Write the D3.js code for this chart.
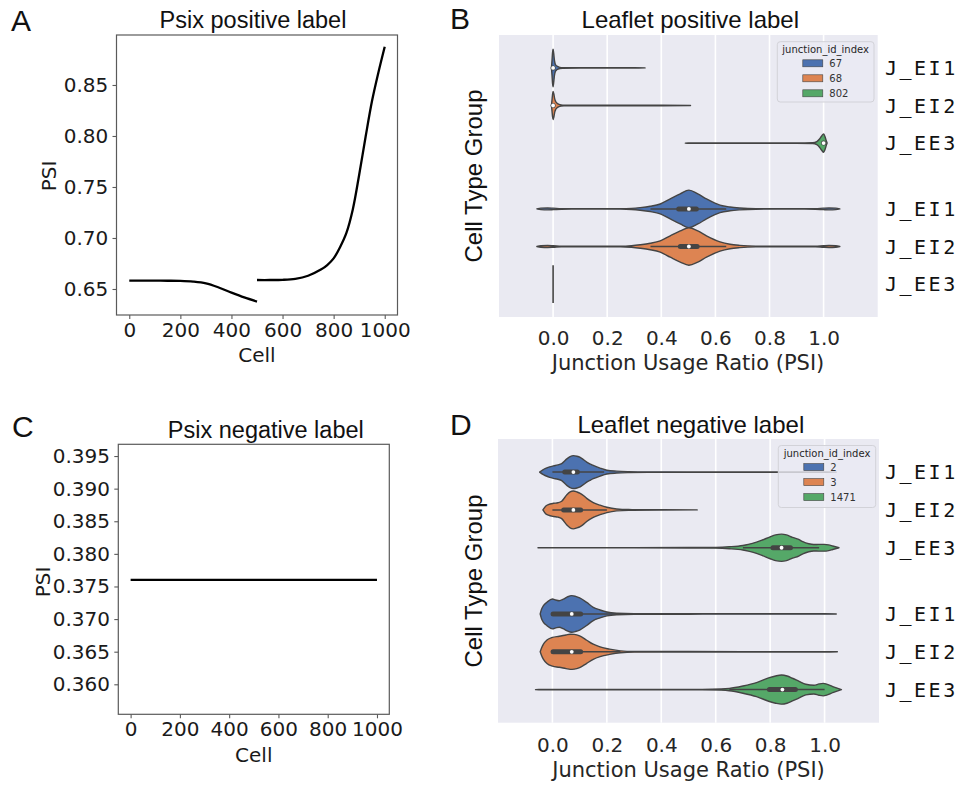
<!DOCTYPE html>
<html><head><meta charset="utf-8">
<script src="https://cdn.jsdelivr.net/npm/d3@7"></script>
<style>body{margin:0;background:#fff;} svg{display:block;}</style>
</head><body>
<svg id="c" width="964" height="787"></svg>
<script>
// ---------------- DATA ----------------
const cellTicks = [0, 200, 400, 600, 800, 1000];
const psiTicksA = [0.65, 0.70, 0.75, 0.80, 0.85];
const psiTicksC = [0.360, 0.365, 0.370, 0.375, 0.380, 0.385, 0.390, 0.395];
const psiTicks = [0.0, 0.2, 0.4, 0.6, 0.8, 1.0];

// Panel A: Psix positive label (two smoothed segments)
const cellsA1 = [0, 50, 100, 150, 200, 250, 300, 350, 400, 450, 500];
const psiA1 = [0.6582, 0.6582, 0.6582, 0.6581, 0.6579, 0.6572, 0.6555, 0.6515, 0.6465, 0.6418, 0.6377];
const cellsA2 = [500, 550, 600, 650, 700, 750, 775, 800, 825, 850, 875, 900, 925, 950, 975, 1000];
const psiA2 = [0.6588, 0.6588, 0.6590, 0.6600, 0.6630, 0.6690, 0.6735, 0.6800, 0.6910, 0.7050, 0.7280, 0.7620, 0.7990, 0.8340, 0.8620, 0.8875];

// Panel C: Psix negative label (constant)
const cellsC = [0, 250, 500, 750, 1000];
const psiC = [0.376, 0.376, 0.376, 0.376, 0.376];

// Violin panels
const rowLabels = ["J_EI1", "J_EI2", "J_EE3"];
const groups = [0, 1];
const hueB = ["67", "68", "802"];
const hueD = ["2", "3", "1471"];

// density profiles: [psi, relative half-width]
const vB_0_67 = [[-0.006,0],[-0.004,0.4],[-0.002,0.82],[0,1.0],[0.002,0.8],[0.005,0.4],[0.008,0.2],[0.012,0.12],[0.018,0.07],[0.025,0.03],[0.035,0.015],[0.1,0.01],[0.3,0.01],[0.34,0]];
const vB_0_68 = [[-0.006,0],[-0.004,0.3],[-0.002,0.6],[0,0.75],[0.003,0.6],[0.006,0.35],[0.01,0.2],[0.015,0.12],[0.022,0.06],[0.03,0.03],[0.04,0.015],[0.1,0.01],[0.4,0.01],[0.508,0]];
const vB_0_802 = [[0.489,0],[0.5,0.01],[0.9,0.01],[0.96,0.02],[0.975,0.08],[0.985,0.22],[0.993,0.38],[1.0,0.49],[1.005,0.35],[1.01,0.12],[1.013,0]];
const vB_1_67 = [[-0.06,0],[-0.045,0.04],[-0.02,0.05],[0,0.04],[0.03,0.015],[0.1,0.01],[0.25,0.012],[0.29,0.03],[0.322,0.07],[0.359,0.14],[0.396,0.26],[0.433,0.53],[0.47,0.8],[0.502,1.0],[0.535,0.8],[0.567,0.53],[0.617,0.2],[0.654,0.1],[0.69,0.05],[0.75,0.015],[0.9,0.01],[0.97,0.015],[1.0,0.04],[1.02,0.05],[1.045,0.04],[1.06,0]];
const vB_1_68 = [[-0.06,0],[-0.045,0.04],[-0.02,0.05],[0,0.04],[0.03,0.015],[0.1,0.01],[0.25,0.012],[0.29,0.04],[0.322,0.09],[0.359,0.17],[0.396,0.3],[0.433,0.57],[0.47,0.83],[0.502,1.0],[0.535,0.83],[0.567,0.57],[0.617,0.25],[0.654,0.12],[0.69,0.06],[0.75,0.018],[0.9,0.01],[0.97,0.015],[1.0,0.04],[1.02,0.05],[1.045,0.04],[1.06,0]];
const singleB_1_802 = [0.0];

const vD_0_2 = [[-0.047,0],[-0.035,0.12],[-0.027,0.18],[-0.01,0.28],[0.004,0.33],[0.02,0.38],[0.034,0.45],[0.053,0.7],[0.065,0.82],[0.077,0.87],[0.09,0.84],[0.102,0.78],[0.115,0.65],[0.126,0.53],[0.14,0.42],[0.15,0.35],[0.175,0.21],[0.2,0.1],[0.236,0.05],[0.28,0.025],[0.35,0.012],[0.5,0.01],[0.7,0.008],[1.0,0.008],[1.043,0]];
const vD_0_3 = [[-0.035,0],[-0.025,0.2],[-0.015,0.28],[0.004,0.35],[0.02,0.38],[0.034,0.46],[0.053,0.8],[0.065,0.95],[0.077,1.0],[0.09,0.95],[0.102,0.88],[0.115,0.75],[0.126,0.61],[0.15,0.39],[0.175,0.25],[0.2,0.14],[0.236,0.05],[0.28,0.02],[0.4,0.01],[0.532,0]];
const vD_0_1471 = [[-0.053,0],[-0.04,0.008],[0.3,0.008],[0.5,0.012],[0.6,0.02],[0.65,0.05],[0.7,0.12],[0.72,0.18],[0.75,0.3],[0.77,0.4],[0.8,0.58],[0.82,0.68],[0.842,0.72],[0.86,0.68],[0.882,0.55],[0.905,0.44],[0.92,0.32],[0.942,0.21],[0.96,0.17],[0.978,0.18],[1.0,0.18],[1.015,0.15],[1.03,0.09],[1.053,0]];
const vD_1_2 = [[-0.045,0],[-0.04,0.25],[-0.033,0.44],[-0.02,0.62],[0.0,0.79],[0.012,0.74],[0.025,0.7],[0.04,0.78],[0.055,0.9],[0.071,0.97],[0.085,0.93],[0.1,0.85],[0.126,0.61],[0.15,0.35],[0.175,0.21],[0.2,0.1],[0.236,0.04],[0.3,0.015],[0.5,0.012],[0.7,0.01],[1.0,0.01],[1.043,0]];
const vD_1_3 = [[-0.045,0],[-0.04,0.2],[-0.033,0.4],[-0.02,0.62],[0.0,0.76],[0.025,0.82],[0.05,0.89],[0.065,0.93],[0.08,0.92],[0.1,0.84],[0.126,0.61],[0.15,0.4],[0.175,0.26],[0.21,0.14],[0.25,0.05],[0.3,0.02],[0.5,0.012],[0.7,0.01],[1.0,0.01],[1.047,0]];
const vD_1_1471 = [[-0.062,0],[-0.05,0.008],[0.4,0.008],[0.55,0.012],[0.62,0.03],[0.65,0.06],[0.7,0.19],[0.75,0.37],[0.797,0.63],[0.82,0.72],[0.842,0.77],[0.862,0.72],[0.882,0.6],[0.905,0.45],[0.931,0.28],[0.961,0.23],[0.98,0.3],[0.995,0.33],[1.01,0.28],[1.03,0.16],[1.062,0]];

// inner box stats: [q1, median, q3, whiskerLow, whiskerHigh]
const boxB_0_67 = [0, 0, 0, 0, 0];
const boxB_0_68 = [0, 0, 0, 0, 0];
const boxB_0_802 = [1.0, 1.0, 1.0, 1.0, 1.0];
const boxB_1_67 = [0.457, 0.502, 0.537, 0.36, 0.64];
const boxB_1_68 = [0.463, 0.502, 0.540, 0.36, 0.64];
const boxD_0_2 = [0.038, 0.077, 0.099, 0.0, 0.19];
const boxD_0_3 = [0.034, 0.077, 0.111, 0.0, 0.2];
const boxD_0_1471 = [0.803, 0.842, 0.882, 0.70, 0.98];
const boxD_1_2 = [-0.005, 0.071, 0.111, -0.005, 0.25];
const boxD_1_3 = [-0.005, 0.071, 0.111, -0.005, 0.25];
const boxD_1_1471 = [0.79, 0.845, 0.90, 0.65, 1.0];

// ---------------- STYLE ----------------
const hueColors = ["#4C72B0", "#DD8452", "#55A868"];
const SANS = "'Liberation Sans', Arial, Helvetica, sans-serif";
const DJ = "'DejaVu Sans', sans-serif";
const MONO = "'DejaVu Sans Mono', monospace";
const OUT = "#444444";

const svg = d3.select("#c");

function txt(x, y, s, size, family, opts = {}) {
  const t = svg.append("text").attr("x", x).attr("y", y).text(s)
    .attr("font-size", size).attr("font-family", family)
    .attr("fill", opts.fill || "#111")
    .attr("text-anchor", opts.anchor || "start");
  if (opts.rotate) t.attr("transform", `rotate(-90,${x},${y})`);
  if (opts.ls) t.attr("letter-spacing", opts.ls);
  return t;
}

// ---------------- LINE PANELS ----------------
function linePanel(o) {
  const x = d3.scaleLinear().domain([-50, 1050]).range([o.left, o.right]);
  const y = d3.scaleLinear().domain(o.yDomain).range([o.bottom, o.top]);
  const g = svg.append("g");
  const line = d3.line().x(d => x(d[0])).y(d => y(d[1])).curve(d3.curveCatmullRom.alpha(0.5));
  o.series.forEach(s => {
    g.append("path").datum(d3.zip(s[0], s[1])).attr("d", line)
      .attr("fill", "none").attr("stroke", "#000").attr("stroke-width", 2.3)
      .attr("stroke-linecap", "butt");
  });
  g.append("rect").attr("x", o.left).attr("y", o.top)
    .attr("width", o.right - o.left).attr("height", o.bottom - o.top)
    .attr("fill", "none").attr("stroke", "#5a5a5a").attr("stroke-width", 1.2);
  const xa = g.append("g").attr("transform", `translate(0,${o.bottom})`)
    .call(d3.axisBottom(x).tickValues(cellTicks).tickSize(4).tickPadding(o.xPad).tickFormat(d3.format("d")));
  const ya = g.append("g").attr("transform", `translate(${o.left},0)`)
    .call(d3.axisLeft(y).tickValues(o.yTicks).tickSize(4).tickPadding(o.yPad).tickFormat(d3.format(o.fmt)));
  [xa, ya].forEach(a => {
    a.select(".domain").remove();
    a.selectAll("line").attr("stroke", "#5a5a5a").attr("stroke-width", 1.1);
    a.selectAll("text").attr("font-size", 20).attr("font-family", DJ).attr("fill", "#1a1a1a");
  });
  txt(o.title[0], o.title[1], o.title[2], 23.5, SANS, { anchor: "middle" });
  txt(o.letter[0], o.letter[1], o.letter[2], 30, SANS);
  txt(o.ylab[0], o.ylab[1], "PSI", 20, DJ, { anchor: "middle", rotate: true, fill: "#1a1a1a" });
  txt(o.xlab[0], o.xlab[1], "Cell", 20, DJ, { anchor: "middle", fill: "#1a1a1a" });
}

linePanel({
  left: 116.5, right: 397.5, top: 35, bottom: 315,
  yDomain: [0.6245, 0.899], yTicks: psiTicksA, fmt: ".2f", xPad: 3.3, yPad: 4.2,
  series: [[cellsA1, psiA1], [cellsA2, psiA2]],
  title: [253, 28.3, "Psix positive label"], letter: [11, 30.5, "A"],
  ylab: [56, 176], xlab: [257, 361.7]
});
linePanel({
  left: 118.3, right: 389.3, top: 444.3, bottom: 714.3,
  yDomain: [0.3554, 0.3968], yTicks: psiTicksC, fmt: ".3f", xPad: 4, yPad: 4.3,
  series: [[cellsC, psiC]],
  title: [265.8, 438.3, "Psix negative label"], letter: [12, 436.5, "C"],
  ylab: [49.5, 582], xlab: [253.8, 761.5]
});

// ---------------- VIOLIN PANELS ----------------
function violinPanel(o) {
  const x = d3.scaleLinear().domain([-0.2, 1.2]).range([o.left, o.right]);
  const y = d3.scaleLinear().domain([-0.5, 1.5]).range([o.top, o.bottom]);
  const dodge = 0.8 / 3;
  const half = y(dodge / 2) - y(0);
  const g = svg.append("g");
  g.append("rect").attr("x", o.left).attr("y", o.top)
    .attr("width", o.right - o.left).attr("height", o.bottom - o.top).attr("fill", "#EAEAF2");
  g.selectAll("line.grid").data(psiTicks).join("line").attr("class", "grid")
    .attr("x1", d => x(d)).attr("x2", d => x(d)).attr("y1", o.top).attr("y2", o.bottom)
    .attr("stroke", "#fff").attr("stroke-width", 1.6);

  o.violins.forEach(v => {
    const cy = y(v.group + (v.hue - 1) * dodge);
    if (v.single) {
      g.append("line").attr("x1", x(v.single[0])).attr("x2", x(v.single[0]))
        .attr("y1", cy - half).attr("y2", cy + half)
        .attr("stroke", OUT).attr("stroke-width", 1.6);
      return;
    }
    const area = d3.area().x(d => x(d[0]))
      .y0(d => cy - d[1] * half).y1(d => cy + d[1] * half)
      .curve(d3.curveMonotoneX);
    g.append("path").datum(v.prof).attr("d", area)
      .attr("fill", hueColors[v.hue]).attr("stroke", OUT).attr("stroke-width", 1.4)
      .attr("stroke-linejoin", "round");
    const b = v.box;
    g.append("line").attr("x1", x(b[3])).attr("x2", x(b[4])).attr("y1", cy).attr("y2", cy)
      .attr("stroke", OUT).attr("stroke-width", 1.5);
    g.append("line").attr("x1", x(b[0]) + (b[2] > b[0] ? 2 : 0)).attr("x2", x(b[2]) - (b[2] > b[0] ? 2 : 0))
      .attr("y1", cy).attr("y2", cy)
      .attr("stroke", OUT).attr("stroke-width", 5).attr("stroke-linecap", "round");
    g.append("circle").attr("cx", x(b[1])).attr("cy", cy).attr("r", 1.9).attr("fill", "#fff");
  });

  // x axis
  const xa = g.append("g").attr("transform", `translate(0,${o.bottom})`)
    .call(d3.axisBottom(x).tickValues(psiTicks).tickSize(0).tickPadding(o.xPad).tickFormat(d3.format(".1f")));
  xa.select(".domain").remove();
  xa.selectAll("text").attr("font-size", 20).attr("font-family", DJ).attr("fill", "#262626");

  // right labels
  groups.forEach(gr => rowLabels.forEach((lab, i) => {
    txt(885, y(gr + (i - 1) * dodge) + 7.2, lab, 20, MONO, { fill: "#111", ls: 2.5 });
  }));

  // legend
  const L = o.legend;
  g.append("rect").attr("x", L.x).attr("y", L.y).attr("width", L.w).attr("height", L.h)
    .attr("rx", 3).attr("fill", "rgba(234,234,242,0.8)").attr("stroke", "#d2d2d8").attr("stroke-width", 1);
  txt(L.x + L.w / 2, L.y + 11, "junction_id_index", 10, DJ, { anchor: "middle", fill: "#262626" });
  o.hues.forEach((h, i) => {
    const ry = L.y + 21.6 + i * 15;
    g.append("rect").attr("x", L.x + 25.5).attr("y", ry - 3.5).attr("width", 20).attr("height", 7)
      .attr("fill", hueColors[i]).attr("stroke", OUT).attr("stroke-width", 0.6);
    txt(L.x + 52, ry + 3.7, h, 10, DJ, { fill: "#333" });
  });

  txt(o.title[0], o.title[1], o.title[2], 24, SANS, { anchor: "middle" });
  txt(o.letter[0], o.letter[1], o.letter[2], 30, SANS);
  txt(o.ylab[0], o.ylab[1], "Cell Type Group", 24, SANS, { anchor: "middle", rotate: true });
  txt(o.xlab[0], o.xlab[1], "Junction Usage Ratio (PSI)", 21, DJ, { anchor: "middle", fill: "#262626" });
}

violinPanel({
  left: 499, right: 877.7, top: 35, bottom: 317, xPad: 13.8,
  hues: hueB,
  violins: [
    { group: 0, hue: 0, prof: vB_0_67, box: boxB_0_67 },
    { group: 0, hue: 1, prof: vB_0_68, box: boxB_0_68 },
    { group: 0, hue: 2, prof: vB_0_802, box: boxB_0_802 },
    { group: 1, hue: 0, prof: vB_1_67, box: boxB_1_67 },
    { group: 1, hue: 1, prof: vB_1_68, box: boxB_1_68 },
    { group: 1, hue: 2, single: singleB_1_802 }
  ],
  legend: { x: 777.3, y: 41.7, w: 96.7, h: 60.3 },
  title: [690.3, 28.3, "Leaflet positive label"], letter: [450, 28.5, "B"],
  ylab: [481.5, 176], xlab: [688, 370]
});
violinPanel({
  left: 498, right: 879, top: 439, bottom: 722.7, xPad: 14.8,
  hues: hueD,
  violins: [
    { group: 0, hue: 0, prof: vD_0_2, box: boxD_0_2 },
    { group: 0, hue: 1, prof: vD_0_3, box: boxD_0_3 },
    { group: 0, hue: 2, prof: vD_0_1471, box: boxD_0_1471 },
    { group: 1, hue: 0, prof: vD_1_2, box: boxD_1_2 },
    { group: 1, hue: 1, prof: vD_1_3, box: boxD_1_3 },
    { group: 1, hue: 2, prof: vD_1_1471, box: boxD_1_1471 }
  ],
  legend: { x: 778.3, y: 445.5, w: 97.4, h: 62 },
  title: [690.8, 433.3, "Leaflet negative label"], letter: [450, 435, "D"],
  ylab: [481.5, 581], xlab: [688.5, 776.5]
});
</script>
</body></html>
